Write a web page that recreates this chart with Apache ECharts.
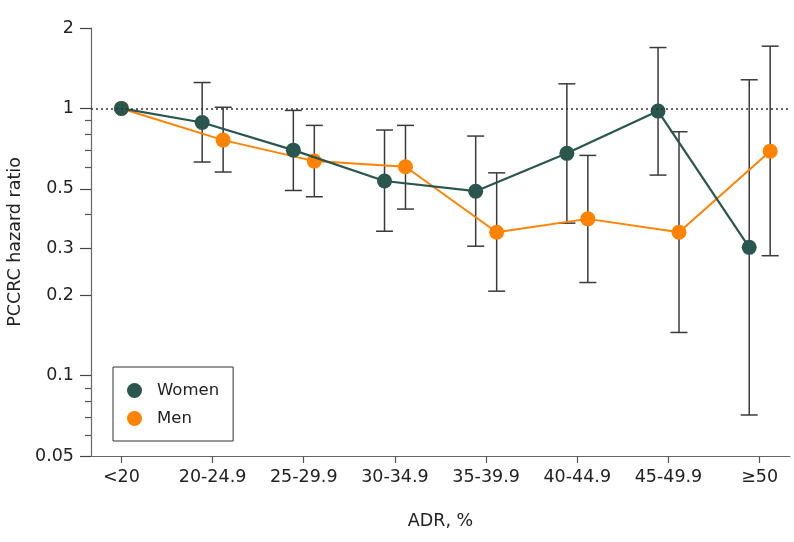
<!DOCTYPE html>
<html><head><meta charset="utf-8">
<script src="https://cdn.jsdelivr.net/npm/echarts@6/dist/echarts.min.js"></script>
<style>html,body{margin:0;padding:0;background:#fff}#c{width:794px;height:542px}</style>
</head><body><div id="c"></div>
<script>
const categories = ['<20','20-24.9','25-29.9','30-34.9','35-39.9','40-44.9','45-49.9','≥50'];
const womenHR   = [1.0, 0.886, 0.698, 0.535, 0.49, 0.679, 0.977, 0.302];
const womenLow  = [null, 0.63, 0.493, 0.347, 0.305, 0.372, 0.563, 0.0712];
const womenHigh = [null, 1.25, 0.983, 0.83, 0.788, 1.236, 1.69, 1.28];
const menHR   = [1.0, 0.761, 0.635, 0.605, 0.344, 0.386, 0.344, 0.692];
const menLow  = [null, 0.578, 0.467, 0.42, 0.207, 0.223, 0.145, 0.281];
const menHigh = [null, 1.01, 0.864, 0.864, 0.574, 0.667, 0.818, 1.71];
const yTickLabels = [0.05, 0.1, 0.2, 0.3, 0.5, 1, 2];
const yMinorTicks = [0.06, 0.07, 0.08, 0.09, 0.4, 0.6, 0.7, 0.8, 0.9];

const FONT = 'DejaVu Sans';
const WOMEN_C = '#2a5650', MEN_C = '#ff8200';
const womenOff = -0.114, menOff = 0.116;
const catIdx = categories.map((c, i) => i);
const xPos = (i, off) => i === 0 ? i : i + off;

const womenPts = womenHR.map((v, i) => [xPos(i, womenOff), v]);
const menPts = menHR.map((v, i) => [xPos(i, menOff), v]);
const womenErr = [], menErr = [];
catIdx.forEach(i => {
  if (womenLow[i] != null) womenErr.push([xPos(i, womenOff), womenLow[i], womenHigh[i]]);
  if (menLow[i] != null) menErr.push([xPos(i, menOff), menLow[i], menHigh[i]]);
});

function errRender(params, api) {
  const x = api.value(0), lo = api.value(1), hi = api.value(2);
  const a = api.coord([x, lo]), b = api.coord([x, hi]);
  const w = 8.5;
  const style = { stroke: '#3a3a3a', lineWidth: 1.5, fill: null };
  return { type: 'group', children: [
    { type: 'line', shape: { x1: a[0], y1: a[1], x2: b[0], y2: b[1] }, style },
    { type: 'line', shape: { x1: a[0] - w, y1: a[1], x2: a[0] + w, y2: a[1] }, style },
    { type: 'line', shape: { x1: b[0] - w, y1: b[1], x2: b[0] + w, y2: b[1] }, style }
  ]};
}

const chart = echarts.init(document.getElementById('c'), null, { renderer: 'canvas' });
chart.setOption({
  animation: false,
  backgroundColor: '#fff',
  textStyle: { fontFamily: FONT },
  grid: { left: 91, right: 4, top: 28, bottom: 86, containLabel: false, outerBoundsMode: 'none' },
  legend: {
    data: ['Women', 'Men'],
    orient: 'vertical', left: 113, top: 367,
    icon: 'circle', itemWidth: 15, itemHeight: 15, itemGap: 11,
    padding: [15, 14, 14, 14],
    borderColor: '#333', borderWidth: 1, backgroundColor: '#fff',
    textStyle: { fontFamily: FONT, fontSize: 16.5, color: '#222', padding: [0, 0, 0, 10] }
  },
  xAxis: {
    type: 'value', min: -1/3, max: 22/3,
    name: 'ADR, %', nameLocation: 'middle', nameGap: 56,
    nameTextStyle: { fontFamily: FONT, fontSize: 17.5, color: '#222' },
    axisLine: { show: true, onZero: false, lineStyle: { color: '#666', width: 1.2 } },
    axisTick: { show: true, customValues: catIdx, length: 7, lineStyle: { color: '#555', width: 1.2 } },
    axisLabel: { customValues: catIdx, margin: 12, fontFamily: FONT, fontSize: 17.5, color: '#222',
      formatter: v => categories[Math.round(v)] },
    splitLine: { show: false }
  },
  yAxis: [{
    type: 'log', logBase: 10, min: 0.05, max: 2,
    name: 'PCCRC hazard ratio', nameLocation: 'middle', nameGap: 62,
    nameTextStyle: { fontFamily: FONT, fontSize: 17.5, color: '#222' },
    axisLine: { show: true, onZero: false, lineStyle: { color: '#666', width: 1.2 } },
    axisTick: { show: true, customValues: yTickLabels, length: 11, lineStyle: { color: '#444', width: 1.2 } },
    axisLabel: { customValues: yTickLabels, margin: 17, fontFamily: FONT, fontSize: 17.5, color: '#222',
      formatter: v => String(parseFloat(Number(v).toFixed(2))) },
    splitLine: { show: false }, minorTick: { show: false }
  }, {
    type: 'log', logBase: 10, min: 0.05, max: 2, position: 'left',
    axisLine: { show: false, onZero: false },
    axisTick: { show: true, customValues: yMinorTicks, length: 6, lineStyle: { color: '#555', width: 1.2 } },
    axisLabel: { show: false }, splitLine: { show: false }
  }],
  series: [
    { name: 'WomenErr', type: 'custom', renderItem: errRender, data: womenErr, encode: { x: 0, y: [1, 2] }, z: 1, silent: true },
    { name: 'MenErr', type: 'custom', renderItem: errRender, data: menErr, encode: { x: 0, y: [1, 2] }, z: 1, silent: true },
    { name: 'Men', type: 'line', data: menPts, z: 3, color: MEN_C,
      symbol: 'circle', symbolSize: 15, lineStyle: { color: MEN_C, width: 2 }, itemStyle: { color: MEN_C } },
    { name: 'Women', type: 'line', data: womenPts, z: 4, color: WOMEN_C,
      symbol: 'circle', symbolSize: 15, lineStyle: { color: WOMEN_C, width: 2.2 }, itemStyle: { color: WOMEN_C },
      markLine: { silent: true, symbol: 'none', label: { show: false },
        lineStyle: { color: '#333', type: [2, 3], width: 1.5 }, data: [{ yAxis: 1 }] } }
  ]
});
</script></body></html>
